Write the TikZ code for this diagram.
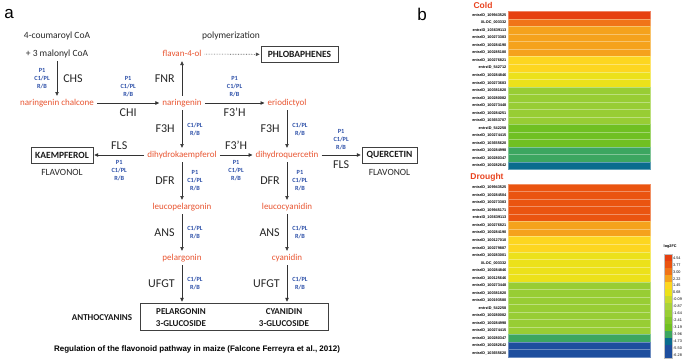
\documentclass[tikz,border=0pt]{standalone}
\usepackage{fontspec}
\setmainfont{Carlito}
\newfontfamily\arialfont{Liberation Sans}
\usetikzlibrary{arrows.meta}

\definecolor{cmpred}{RGB}{232,84,48}
\definecolor{regblue}{RGB}{45,80,168}
\definecolor{ttlred}{RGB}{232,66,30}
% colour key of the heat map, top to bottom
\definecolor{lgA}{RGB}{230,64,16}
\definecolor{lgB}{RGB}{234,84,16}
\definecolor{lgC}{RGB}{240,116,24}
\definecolor{lgD}{RGB}{245,162,28}
\definecolor{lgE}{RGB}{253,214,32}
\definecolor{lgF}{RGB}{236,225,26}
\definecolor{lgG}{RGB}{200,218,46}
\definecolor{lgH}{RGB}{170,210,58}
\definecolor{lgI}{RGB}{152,205,52}
\definecolor{lgJ}{RGB}{132,198,42}
\definecolor{lgK}{RGB}{112,192,34}
\definecolor{lgL}{RGB}{60,166,96}
\definecolor{lgM}{RGB}{10,108,142}
\definecolor{lgN}{RGB}{30,78,158}

\begin{document}
\begin{tikzpicture}[
    x=1pt,
    y=-1pt,
    arr/.style={draw=black!80, line width=0.6pt, -{Triangle[length=3.8pt,width=3.4pt]},
        shorten <=1pt, shorten >=1pt},
    src/.style={font=\fontsize{9.5}{11}\selectfont, text=black!85, inner sep=2pt},
    cmp/.style={text=cmpred, font=\fontsize{9}{10}\selectfont, inner sep=2pt,
        text height=6pt, text depth=2pt},
    enz/.style={font=\fontsize{12}{13}\selectfont, text=black!85, inner sep=1pt},
    reg/.style={text=regblue, font=\fontsize{6.3}{8}\selectfont\bfseries, align=center,
        inner sep=1pt},
    prod/.style={draw=black!75, line width=0.6pt, font=\fontsize{9.5}{11}\selectfont\bfseries,
        text=black!90, inner sep=2pt, minimum height=16pt},
    cls/.style={font=\fontsize{9.5}{11}\selectfont, text=black!85, inner sep=1pt},
    glu/.style={font=\fontsize{9}{12}\selectfont\bfseries, text=black!90, align=center,
        inner sep=1pt},
    panel/.style={font=\arialfont\fontsize{17}{17}\selectfont, inner sep=0pt},
    ttl/.style={font=\arialfont\fontsize{8.5}{9}\selectfont\bfseries, text=ttlred, inner sep=0pt},
    hmlab/.style={anchor=east, font=\arialfont\fontsize{3.8}{4}\selectfont\bfseries, inner sep=0.5pt},
    keylab/.style={anchor=west, font=\arialfont\fontsize{3.8}{4}\selectfont, inner sep=0.5pt}
]
\path[use as bounding box] (0,0) rectangle (685,359);

% ---------------- panel a: flavonoid pathway ----------------
\node[panel] (pa) at (9,14) {a};

\node[src] (cou) at (57,36) {4-coumaroyl CoA};
\node[src] (mal) at (57,54) {+ 3 malonyl CoA};
\node[cmp] (chal) at (57,103) {naringenin chalcone};
\node[cmp] (nar) at (182,103) {naringenin};
\node[cmp] (flav) at (182,54) {flavan-4-ol};
\node[cls] (poly) at (231,36) {polymerization};
\node[prod, minimum width=77pt] (phlob) at (299.5,54.5) {PHLOBAPHENES};
\node[cmp] (erio) at (287,103) {eriodictyol};
\node[cmp] (dhk) at (182,155) {dihydrokaempferol};
\node[cmp] (dhq) at (287,155) {dihydroquercetin};
\node[prod, minimum width=62pt] (kaem) at (62,155) {KAEMPFEROL};
\node[cls] (flvA) at (62,172) {FLAVONOL};
\node[prod, minimum width=55pt] (quer) at (389.5,155) {QUERCETIN};
\node[cls] (flvB) at (389.5,172.5) {FLAVONOL};
\node[cmp] (lpel) at (182,207) {leucopelargonin};
\node[cmp] (lcya) at (287,207) {leucocyanidin};
\node[cmp] (pel) at (182,258) {pelargonin};
\node[cmp] (cya) at (287,258) {cyanidin};

% anthocyanin box holding both glucosides
\node[draw=black!75, line width=0.6pt, minimum width=188pt, minimum height=27pt,
    inner sep=0pt] (anth) at (234,316.5) {};
\node[glu] (pelg) at (181,318) {PELARGONIN\\3-GLUCOSIDE};
\node[glu] (cyag) at (284,318) {CYANIDIN\\3-GLUCOSIDE};
\node[glu] (antho) at (102,318) {ANTHOCYANINS};

% steps with enzyme and regulators
\draw[arr] (mal) -- node[enz, right=5pt] (chsE) {CHS}
    node[reg, left=6pt] (chsR) {P1\\C1/PL\\R/B} (chal);
\draw[arr] (chal) -- node[reg, above=5pt] (chiR) {P1\\C1/PL\\R/B}
    node[enz, below=4pt] (chiE) {CHI} (nar);
\draw[arr] (nar) -- node[enz, left=6pt] (fnrE) {FNR} (flav);
\draw[arr, densely dotted, draw=black!70] (flav) -- (phlob);
\draw[arr] (nar) -- node[reg, above=5pt] (fthR) {P1\\C1/PL\\R/B}
    node[enz, below=4pt] (fthE) {F3’H} (erio);
\draw[arr] (nar) -- node[enz, left=6pt] (f3hE) {F3H}
    node[reg, right=4pt] (f3hR) {C1/PL\\R/B} (dhk);
\draw[arr] (erio) -- node[enz, left=6pt] (f3hE2) {F3H}
    node[reg, right=4pt] (f3hR2) {C1/PL\\R/B} (dhq);
\draw[arr] (dhk) -- node[enz, above=4pt] (flsE) {FLS}
    node[reg, below=4pt] (flsR) {P1\\C1/PL\\R/B} (kaem);
\draw[arr] (dhk) -- node[enz, above=4pt] (fthE2) {F3’H}
    node[reg, below=4pt] (fthR2) {P1\\C1/PL\\R/B} (dhq);
\draw[arr] (dhq) -- node[reg, above=4pt] (flsR2) {P1\\C1/PL\\R/B}
    node[enz, below=4pt] (flsE2) {FLS} (quer);
\draw[arr] (dhk) -- node[enz, left=6pt] (dfrE) {DFR}
    node[reg, right=4pt] (dfrR) {P1\\C1/PL\\R/B} (lpel);
\draw[arr] (dhq) -- node[enz, left=6pt] (dfrE2) {DFR}
    node[reg, right=4pt] (dfrR2) {P1\\C1/PL\\R/B} (lcya);
\draw[arr] (lpel) -- node[enz, left=6pt] (ansE) {ANS}
    node[reg, right=4pt] (ansR) {C1/PL\\R/B} (pel);
\draw[arr] (lcya) -- node[enz, left=6pt] (ansE2) {ANS}
    node[reg, right=4pt] (ansR2) {C1/PL\\R/B} (cya);
\draw[arr] (pel) -- node[enz, left=6pt] (ufgtE) {UFGT}
    node[reg, right=4pt] (ufgtR) {C1/PL\\R/B} (pel |- anth.north);
\draw[arr] (cya) -- node[enz, left=6pt] (ufgtE2) {UFGT}
    node[reg, right=4pt] (ufgtR2) {C1/PL\\R/B} (cya |- anth.north);

\node[font=\arialfont\fontsize{8}{9}\selectfont\bfseries, inner sep=0pt] (cap) at (197,349)
    {Regulation of the flavonoid pathway in maize (Falcone Ferreyra et al., 2012)};

% ---------------- panel b: heat maps ----------------
\node[panel] (pb) at (422,14) {b};
\node[ttl] (coldT) at (483,5) {Cold};
\node[ttl] (drouT) at (487,177) {Drought};

% Cold, 21 rows
\foreach \lab/\col [count=\i from 0] in {
    entrzID\_109943525/lgA, XLOC\_003332/lgC, entrzID\_103639113/lgD,
    entrzID\_100273383/lgD, entrzID\_100284190/lgD, entrzID\_100285180/lgD,
    entrzID\_100276821/lgE, entrzID\_542712/lgE, entrzID\_100284846/lgF,
    entrzID\_100273683/lgF, entrzID\_100381820/lgI, entrzID\_100280082/lgI,
    entrzID\_100273448/lgI, entrzID\_100284251/lgI, entrzID\_103653707/lgI,
    entrzID\_542258/lgK, entrzID\_100274415/lgK, entrzID\_103655620/lgK,
    entrzID\_100284998/lgL, entrzID\_100280347/lgL, entrzID\_100282642/lgM} {
    \pgfmathsetmacro{\yt}{11.5+7.52*\i}
    \filldraw[fill=\col, draw=white!35!\col, line width=0.3pt] (508,\yt) rectangle (650,\yt+7.52);
    \node[hmlab] (cold\i) at (507,\yt+3.76) {\lab};
}

% Drought, 23 rows
\foreach \lab/\col [count=\i from 0] in {
    entrzID\_109943525/lgB, entrzID\_100284504/lgB, entrzID\_100273383/lgB,
    entrzID\_109945171/lgB, entrzID\_103639113/lgB, entrzID\_100276821/lgD,
    entrzID\_100284190/lgD, entrzID\_100127010/lgE, entrzID\_100279887/lgE,
    entrzID\_100283001/lgF, XLOC\_003332/lgF, entrzID\_100284846/lgF,
    entrzID\_100125646/lgF, entrzID\_100273448/lgI, entrzID\_100381820/lgI,
    entrzID\_100193580/lgI, entrzID\_542258/lgI, entrzID\_100280082/lgI,
    entrzID\_100284998/lgI, entrzID\_100274415/lgI, entrzID\_100280347/lgL,
    entrzID\_100282642/lgN, entrzID\_103655620/lgN} {
    \pgfmathsetmacro{\yt}{184+7.52*\i}
    \filldraw[fill=\col, draw=white!35!\col, line width=0.3pt] (508,\yt) rectangle (650,\yt+7.52);
    \node[hmlab] (drou\i) at (507,\yt+3.76) {\lab};
}

% colour key
\node[keylab, font=\arialfont\fontsize{3.8}{4}\selectfont\bfseries] (keyT) at (663,247) {log2FC};
\foreach \val/\col [count=\i from 0] in {
    4.54/lgA, 3.77/lgB, 3.00/lgC, 2.22/lgD, 1.45/lgE, 0.68/lgF, -0.09/lgG,
    -0.87/lgH, -1.64/lgI, -2.41/lgJ, -3.19/lgK, -3.96/lgL, -4.73/lgM,
    -5.50/lgN, -6.28/lgN} {
    \pgfmathsetmacro{\yt}{254.5+6.93*\i}
    \fill[\col] (664,\yt) rectangle (672,\yt+6.93);
    \node[keylab] (key\i) at (672.5,\yt+3.46) {\val};
}
\draw[black!25, line width=0.3pt] (664,254.5) rectangle (672,358.45);
\end{tikzpicture}
\end{document}
